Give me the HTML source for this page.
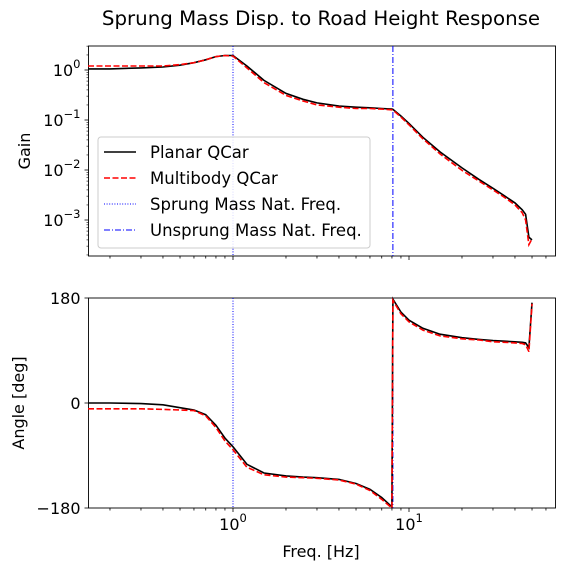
<!DOCTYPE html>
<html><head><meta charset="utf-8"><style>
html,body{margin:0;padding:0;background:#fff;}
svg{display:block;font-family:"DejaVu Sans","Liberation Sans",sans-serif;}
</style></head><body>
<svg id="chart" width="563" height="571" viewBox="0 0 563 571" xmlns="http://www.w3.org/2000/svg">
<text x="321" y="25" font-size="19.8" text-anchor="middle">Sprung Mass Disp. to Road Height Response</text>
<g id="gtop"></g>
<g id="gbot"></g>
<text transform="translate(30,151) rotate(-90)" font-size="16" text-anchor="middle">Gain</text>
<text transform="translate(24,403) rotate(-90)" font-size="16" text-anchor="middle">Angle [deg]</text>
<text x="321" y="557" font-size="16" text-anchor="middle">Freq. [Hz]</text>
<g>
<rect x="98" y="137" width="272" height="111" rx="3" fill="#fff" fill-opacity="0.85" stroke="#ccc"/>
<line x1="104" y1="152" x2="136" y2="152" stroke="#000" stroke-width="1.6"/>
<text x="150" y="158" font-size="16.5">Planar QCar</text>
<line x1="104" y1="178" x2="136" y2="178" stroke="red" stroke-width="1.6" stroke-dasharray="6,2.5"/>
<text x="150" y="184" font-size="16.5">Multibody QCar</text>
<line x1="104" y1="204" x2="136" y2="204" stroke="blue" stroke-width="1" stroke-dasharray="1,1.6"/>
<text x="150" y="210" font-size="16.5">Sprung Mass Nat. Freq.</text>
<line x1="104" y1="230" x2="136" y2="230" stroke="blue" stroke-width="1" stroke-dasharray="6,2,1,2"/>
<text x="150" y="236" font-size="16.5">Unsprung Mass Nat. Freq.</text>
</g>
</svg>
<script>
const freqs=[0.15,0.2,0.3,0.4,0.5,0.6,0.7,0.8,0.9,1.0,1.2,1.5,2,2.5,3,4,5,6,7,8,8.1,9,10,12,15,20,25,30,35,40,44,46,48,50];
const gainPlanar=[1.05,1.05,1.1,1.15,1.25,1.4,1.6,1.85,1.95,1.95,1.2,0.62,0.34,0.26,0.22,0.19,0.18,0.175,0.17,0.165,0.163,0.12,0.085,0.045,0.023,0.011,0.0065,0.0043,0.003,0.0022,0.0016,0.0013,0.00045,0.0004];
const gainMulti=[1.2,1.2,1.2,1.2,1.28,1.4,1.6,1.85,1.95,1.9,1.1,0.56,0.31,0.24,0.2,0.18,0.17,0.17,0.165,0.16,0.158,0.115,0.08,0.042,0.021,0.0098,0.006,0.004,0.0028,0.002,0.0014,0.001,0.00032,0.00042];
const phasePlanar=[0,0,-1,-3,-8,-12,-20,-38,-60,-75,-105,-120,-125,-127,-128,-131,-138,-148,-162,-178,178,156,142,128,118,112,109,107,106,105,104,103,95,172];
const phaseMulti=[-10,-10,-10,-11,-12,-13,-22,-42,-65,-80,-110,-123,-127,-128,-129,-132,-139,-150,-165,-180,176,153,139,125,115,110,108,105,104,103,102,100,88,170];
const gainTicks=[0,-1,-2,-3];
const phaseTicks=[180,0,-180];
const sprungFreq=1.0, unsprungFreq=8.1;
const NS="http://www.w3.org/2000/svg";
const X0=88.5,X1=555.5;
function xs(f){return 233+176*Math.log10(f);}
const BT={top:46,bot:256}, BB={top:298,bot:508};
function yg(g){return 70+(-Math.log10(g))*50;}
function yp(p){return 403-p/180*105;}
function el(parent,tag,attrs){const e=document.createElementNS(NS,tag);for(const k in attrs)e.setAttribute(k,attrs[k]);parent.appendChild(e);return e;}
function axes(g,box){
  el(g,'rect',{x:X0,y:box.top,width:X1-X0,height:box.bot-box.top,fill:'none',stroke:'#000','stroke-width':0.9});
  for(let d=-1;d<=1;d++)for(let m=1;m<10;m++){const f=m*Math.pow(10,d);const x=xs(f);if(x<X0||x>X1)continue;
    el(g,'line',{x1:x,x2:x,y1:box.bot,y2:box.bot+(m==1?4:2.5),stroke:'#000','stroke-width':0.8});}
}
function path(g,data,yf,color,dash,name){
  const d=freqs.map((f,i)=>(i?'L':'M')+xs(f).toFixed(1)+','+yf(data[i]).toFixed(1)).join('');
  const p=el(g,'path',{d:d,fill:'none',stroke:color,'stroke-width':1.6});
  if(dash)p.setAttribute('stroke-dasharray',dash);
  
  
}
const gTop=document.getElementById('gtop'), gBot=document.getElementById('gbot');
axes(gTop,BT);axes(gBot,BB);
gainTicks.forEach(t=>{const y=yg(Math.pow(10,t));
  el(gTop,'line',{x1:X0-4,x2:X0,y1:y,y2:y,stroke:'#000','stroke-width':0.8});
  const tx=el(gTop,'text',{x:X0-8,y:y+6,'font-size':16,'text-anchor':'end'});
  
  
  tx.innerHTML='10<tspan dy="-8" font-size="11.5">'+(t<0?'\u2212'+(-t):t)+'</tspan>';
  for(let m=2;m<10;m++){const yy=yg(m*Math.pow(10,t-1));if(yy>BT.top&&yy<BT.bot)el(gTop,'line',{x1:X0-2,x2:X0,y1:yy,y2:yy,stroke:'#000','stroke-width':0.6});}
});
for(let m=2;m<4;m++){const yy=yg(m);el(gTop,'line',{x1:X0-2,x2:X0,y1:yy,y2:yy,stroke:'#000','stroke-width':0.6});}
phaseTicks.forEach(t=>{const y=yp(t);
  el(gBot,'line',{x1:X0-4,x2:X0,y1:y,y2:y,stroke:'#000','stroke-width':0.8});
  const tx=el(gBot,'text',{x:X0-8,y:y+6,'font-size':16,'text-anchor':'end'});
  
  
  tx.textContent=t<0?'\u2212'+(-t):String(t);
});
[0,1].forEach(e=>{const x=xs(Math.pow(10,e));
  const tx=el(gBot,'text',{x:x,y:530,'font-size':16,'text-anchor':'middle'});
  
  
  tx.innerHTML='10<tspan dy="-8" font-size="11.5">'+e+'</tspan>';});
[[gTop,BT],[gBot,BB]].forEach(([g,b])=>{
  el(g,'line',{x1:xs(sprungFreq),x2:xs(sprungFreq),y1:b.top,y2:b.bot,stroke:'blue','stroke-width':1,'stroke-dasharray':'1,1.6'});
  el(g,'line',{x1:xs(unsprungFreq),x2:xs(unsprungFreq),y1:b.top,y2:b.bot,stroke:'blue','stroke-width':1,'stroke-dasharray':'6,2,1,2'});
});
path(gTop,gainPlanar,yg,'#000',null,'gain-planar-line');
path(gTop,gainMulti,yg,'red','6,2.5','gain-multibody-line');
path(gBot,phasePlanar,yp,'#000',null,'phase-planar-line');
path(gBot,phaseMulti,yp,'red','6,2.5','phase-multibody-line');
</script>
</body></html>
